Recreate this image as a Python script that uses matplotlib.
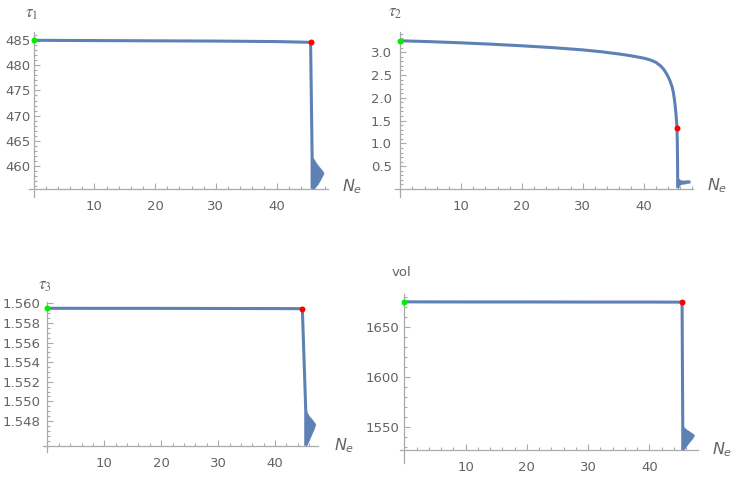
import numpy as np
import matplotlib
matplotlib.use("Agg")
import matplotlib.pyplot as plt
from matplotlib.ticker import FixedLocator

# ---------------- data ----------------
x_major_ticks = [10, 20, 30, 40]

# panel 1 : tau1
ne1 = [0, 10, 20, 30, 40, 45.6, 45.85, 45.85]
tau1 = [485.0, 484.95, 484.9, 484.85, 484.75, 484.6, 461.8, 455.4]
tail1_ne = [45.85, 46.2, 46.5, 46.8, 47.2, 47.4, 47.6, 47.75]
tail1_hi = [461.8, 461.2, 460.6, 460.1, 459.5, 459.2, 458.9, 458.6]
tail1_lo = [455.4, 455.5, 455.9, 456.4, 457.2, 457.7, 458.1, 458.6]
yticks1 = [460, 465, 470, 475, 480, 485]

# panel 2 : tau2
ne2 = [0, 5, 10, 15, 20, 25, 30, 33, 36, 38, 40, 41, 42, 42.8, 43.4, 43.9,
       44.3, 44.7, 44.9, 45.07, 45.2, 45.34, 45.45, 45.5, 45.56, 45.6, 45.62]
tau2 = [3.25, 3.23, 3.205, 3.175, 3.14, 3.10, 3.05, 3.01, 2.96, 2.92, 2.87,
        2.835, 2.78, 2.70, 2.61, 2.50, 2.39, 2.24, 2.12, 1.97, 1.83, 1.64,
        1.45, 1.34, 1.0, 0.5, 0.02]
tail2_ne = [45.62, 45.9, 46.3, 46.8, 47.2, 47.6]
tail2_hi = [0.26, 0.21, 0.19, 0.19, 0.20, 0.19]
tail2_lo = [0.0, 0.09, 0.11, 0.12, 0.13, 0.14]
yticks2 = [0.5, 1.0, 1.5, 2.0, 2.5, 3.0]

# panel 3 : tau3
ne3 = [0, 10, 20, 30, 40, 44.8, 45.4, 45.4]
tau3 = [1.55949, 1.55948, 1.55948, 1.55947, 1.55946, 1.55945, 1.5491, 1.54548]
tail3_ne = [45.4, 45.7, 46.0, 46.3, 46.6, 46.85, 47.1]
tail3_hi = [1.5491, 1.5488, 1.5485, 1.5483, 1.5481, 1.5479, 1.5477]
tail3_lo = [1.54548, 1.5457, 1.5461, 1.5465, 1.5469, 1.5472, 1.5477]
yticks3 = [1.548, 1.550, 1.552, 1.554, 1.556, 1.558, 1.560]

# panel 4 : vol
ne4 = [0, 10, 20, 30, 40, 45.35, 45.46, 45.46]
vol = [1675.6, 1675.5, 1675.5, 1675.4, 1675.4, 1675.3, 1551.0, 1526.6]
tail4_ne = [45.46, 45.8, 46.1, 46.4, 46.8, 47.1, 47.35]
tail4_hi = [1551.0, 1548.6, 1547.2, 1546.0, 1544.3, 1543.0, 1541.7]
tail4_lo = [1526.6, 1528.5, 1531.2, 1533.6, 1536.6, 1539.0, 1541.7]
yticks4 = [1550, 1600, 1650]

start_idx = 0
red_idx = [5, 23, 5, 5]

# ---------------- style ----------------
LINE = "#5E81B5"
AX = "#aaaaaa"
TXT = "#636363"
W, H = 736, 480

fig = plt.figure(figsize=(W / 100, H / 100), dpi=100)
plt.rcParams['font.family'] = ['DejaVu Sans']


def add_ax(x0, x1, ytop, ybot):
    return fig.add_axes([x0 / W, 1 - ybot / H, (x1 - x0) / W, (ybot - ytop) / H])


panels = [
    dict(rect=(28.9, 327.6, 32.3, 196.8), xlim=(-0.8, 48.4), ylim=(453.8, 486.6),
         cross=455.4, ne=ne1, y=tau1, tx=tail1_ne, thi=tail1_hi, tlo=tail1_lo,
         yt=yticks1, ymin=1.0, fmt="{:.0f}", ypad=2.5),
    dict(rect=(395.4, 693.4, 32.1, 196.8), xlim=(-0.8, 48.2), ylim=(-0.17, 3.44),
         cross=0.0, ne=ne2, y=tau2, tx=tail2_ne, thi=tail2_hi, tlo=tail2_lo,
         yt=yticks2, ymin=0.1, fmt="{:.1f}", ypad=6.0),
    dict(rect=(42.9, 317.7, 301.7, 451.9), xlim=(-0.8, 47.5), ylim=(1.54485, 1.56016),
         cross=1.54548, ne=ne3, y=tau3, tx=tail3_ne, thi=tail3_hi, tlo=tail3_lo,
         yt=yticks3, ymin=0.0005, fmt="{:.3f}", ypad=5.0),
    dict(rect=(399.6, 698.3, 293.5, 462.5), xlim=(-0.8, 48.0), ylim=(1514, 1684),
         cross=1526.6, ne=ne4, y=vol, tx=tail4_ne, thi=tail4_hi, tlo=tail4_lo,
         yt=yticks4, ymin=10, fmt="{:.0f}", ypad=3.5),
]

for k, p in enumerate(panels):
    ax = add_ax(*p["rect"])
    ax.set_xlim(*p["xlim"])
    ax.set_ylim(*p["ylim"])
    ax.patch.set_alpha(0)
    for s in ("top", "right"):
        ax.spines[s].set_visible(False)
    ax.spines["left"].set_position(("data", 0))
    ax.spines["bottom"].set_position(("data", p["cross"]))
    for s in ("left", "bottom"):
        ax.spines[s].set_color(AX)
        ax.spines[s].set_linewidth(0.9)

    ax.plot(p["ne"], p["y"], color=LINE, lw=2.2, solid_joinstyle="round",
            solid_capstyle="butt", zorder=3)
    ax.fill_between(p["tx"], p["tlo"], p["thi"], color=LINE, lw=0.3,
                    edgecolor=LINE, zorder=3)
    ax.plot([p["ne"][start_idx]], [p["y"][start_idx]], "o", color="#00ee00",
            ms=4.3, mec="none", clip_on=False, zorder=5)
    r = red_idx[k]
    ax.plot([p["ne"][r]], [p["y"][r]], "o", color="#ff0000",
            ms=4.3, mec="none", clip_on=False, zorder=5)

    # ticks
    ax.xaxis.set_major_locator(FixedLocator(x_major_ticks))
    xmin = [v for v in np.arange(2, p["xlim"][1], 2) if v % 10 != 0]
    ax.xaxis.set_minor_locator(FixedLocator(xmin))
    ax.yaxis.set_major_locator(FixedLocator(p["yt"]))
    step = p["ymin"]
    ymin_ticks = []
    start = np.ceil((p["cross"] + 1e-9) / step) * step
    for t in np.arange(start, p["ylim"][1], step):
        if not any(abs(t - m) < step * 0.01 for m in p["yt"]):
            ymin_ticks.append(t)
    ax.yaxis.set_minor_locator(FixedLocator(ymin_ticks))
    ax.set_yticklabels([p["fmt"].format(t) for t in p["yt"]])
    ax.set_xticklabels([str(t) for t in x_major_ticks])

    ax.tick_params(which="both", direction="in", color=AX, width=0.8,
                   labelcolor=TXT, labelsize=9.5)
    ax.tick_params(which="major", length=4)
    ax.tick_params(which="minor", length=2)
    ax.tick_params(axis="x", which="major", pad=8.0)
    ax.tick_params(axis="y", which="major", pad=p["ypad"])

# axis labels
tau_kw = dict(color=TXT, fontsize=12, ha="center", va="center", math_fontfamily="stix")
fig.text(32 / W, 1 - 13 / H, r"$\tau_1$", **tau_kw)
fig.text(395 / W, 1 - 12 / H, r"$\tau_2$", **tau_kw)
fig.text(45 / W, 1 - 285 / H, r"$\tau_3$", **tau_kw)
fig.text(401 / W, 1 - 273 / H, "vol", color=TXT, fontsize=9.5, ha="center", va="center")

ne_kw = dict(color=TXT, fontsize=11.5, ha="left", va="center", math_fontfamily="dejavusans")
fig.text(342 / W, 1 - 187 / H, r"$N_e$", **ne_kw)
fig.text(707 / W, 1 - 186 / H, r"$N_e$", **ne_kw)
fig.text(334 / W, 1 - 446 / H, r"$N_e$", **ne_kw)
fig.text(712 / W, 1 - 450 / H, r"$N_e$", **ne_kw)

fig.savefig("out.png", dpi=100)
